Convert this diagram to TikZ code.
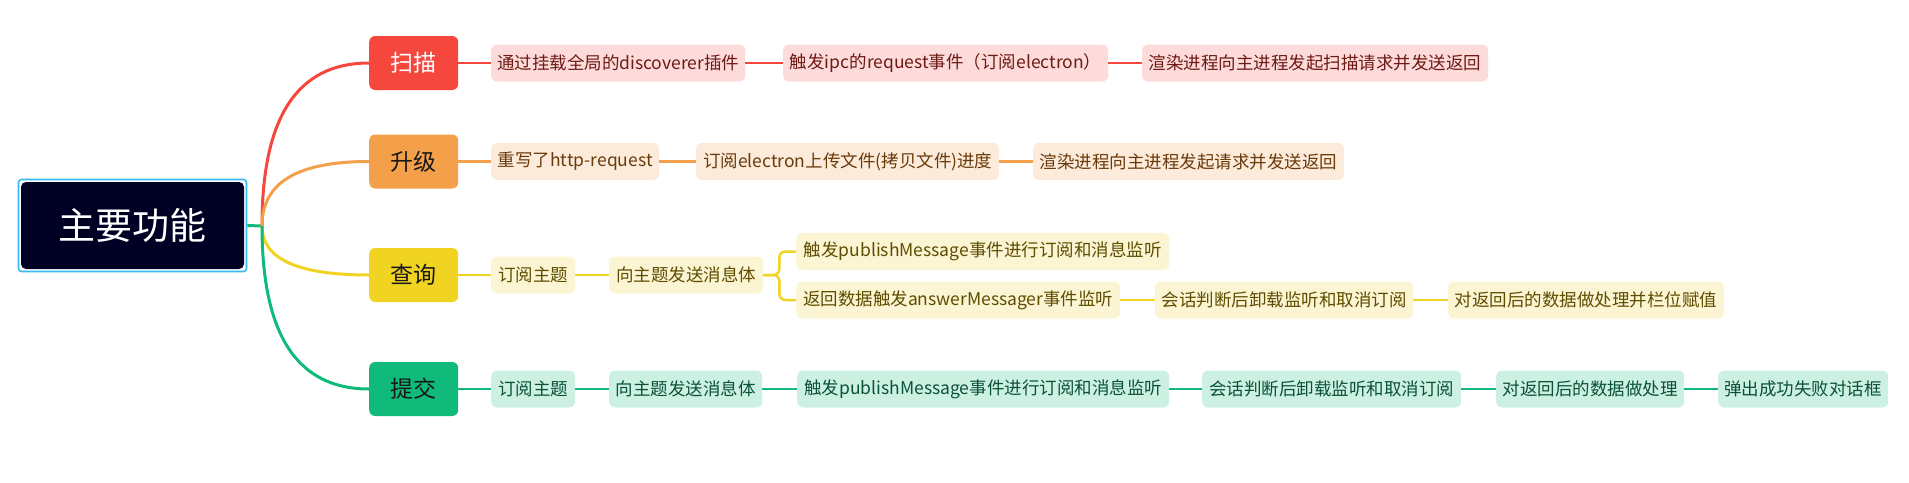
\documentclass[tikz,border=0pt]{standalone}
\usepackage{fontspec}
\newfontfamily\cjk{Noto Sans CJK SC}
\definecolor{cred}{HTML}{F5473E}
\definecolor{cora}{HTML}{F4A04B}
\definecolor{cyel}{HTML}{F1D321}
\definecolor{cgrn}{HTML}{0FBA7B}
\definecolor{fred}{HTML}{FDDBDB}
\definecolor{fora}{HTML}{FCEBDA}
\definecolor{fyel}{HTML}{FCF5D3}
\definecolor{fgrn}{HTML}{CCF1E3}
\definecolor{tred}{HTML}{6E1A14}
\definecolor{tora}{HTML}{6A3A0A}
\definecolor{tyel}{HTML}{5E4D00}
\definecolor{tgrn}{HTML}{0B5138}
\definecolor{rootbg}{HTML}{000025}
\definecolor{rootblue}{HTML}{3BB8F0}
\tikzset{
  lvtwo/.style={anchor=west, rounded corners=6pt, minimum height=37pt, inner xsep=0pt, inner ysep=0pt,
    font=\cjk\fontsize{17.5}{20}\selectfont},
  rb/.style={lvtwo, fill=fred, text=tred},
  ob/.style={lvtwo, fill=fora, text=tora},
  yb/.style={lvtwo, fill=fyel, text=tyel},
  gb/.style={lvtwo, fill=fgrn, text=tgrn},
  lvone/.style={anchor=west, rounded corners=6pt, minimum width=89pt, minimum height=54pt, inner sep=0pt,
    font=\cjk\fontsize{23}{26}\selectfont},
  link/.style={line width=2.5pt},
  curve/.style={line width=3pt},
}
\begin{document}
\begin{tikzpicture}[x=1pt,y=-1pt]
\useasboundingbox (0,0) rectangle (1909,482);
% root
\node[draw=rootblue, line width=1.6pt, rounded corners=3pt, minimum width=228pt, minimum height=92pt] (rootframe) at (132.5,225.5) {};
\node[fill=rootbg, rounded corners=5pt, minimum width=223pt, minimum height=87pt, text=white,
  font=\cjk\fontsize{37}{40}\selectfont] (root) at (132.5,225.5) {主要功能};
\coordinate (hub) at (262,226);
% level one
\node[lvone, fill=cred, text=white] (scan) at (369,63) {扫描};
\node[lvone, fill=cora, text=black!90] (upg) at (369,161.5) {升级};
\node[lvone, fill=cyel, text=black!90] (qry) at (369,275) {查询};
\node[lvone, fill=cgrn, text=black!90] (sub) at (369,389) {提交};
% curves
\draw[cgrn, line width=3pt] (rootframe.east) -- (hub);
\draw[curve, cred] (hub) .. controls (262,117.3) and (297,63) .. (scan.west);
\draw[curve, cora] (hub) .. controls (262,182.7) and (297,161.5) .. (upg.west);
\draw[curve, cyel] (hub) .. controls (262,258.7) and (297,275) .. (qry.west);
\draw[curve, cgrn] (hub) .. controls (262,334.7) and (297,389) .. (sub.west);
% row 1
\node[rb, minimum width=254pt] (a1) at (491,63) {通过挂载全局的discoverer插件};
\node[rb, minimum width=325pt] (a2) at (783,63) {触发ipc的request事件（订阅electron）};
\node[rb, minimum width=346pt] (a3) at (1142,63) {渲染进程向主进程发起扫描请求并发送返回};
\draw[link, cred] (scan.east) -- (a1.west);
\draw[link, cred] (a1.east) -- (a2.west);
\draw[link, cred] (a2.east) -- (a3.west);
% row 2
\node[ob, minimum width=168pt] (b1) at (491,161.5) {重写了http-request};
\node[ob, minimum width=303pt] (b2) at (696,161.5) {订阅electron上传文件(拷贝文件)进度};
\node[ob, minimum width=311pt] (b3) at (1033,161.5) {渲染进程向主进程发起请求并发送返回};
\draw[link, cora] (upg.east) -- (b1.west);
\draw[link, cora] (b1.east) -- (b2.west);
\draw[link, cora] (b2.east) -- (b3.west);
% row 3
\node[yb, minimum width=84pt] (c1) at (491,275) {订阅主题};
\node[yb, minimum width=154pt] (c2) at (609,275) {向主题发送消息体};
\node[yb, minimum width=373pt] (c3) at (796,251.5) {触发publishMessage事件进行订阅和消息监听};
\node[yb, minimum width=324pt] (c4) at (796,300) {返回数据触发answerMessager事件监听};
\node[yb, minimum width=258pt] (c5) at (1155,300) {会话判断后卸载监听和取消订阅};
\node[yb, minimum width=276pt] (c6) at (1448,300) {对返回后的数据做处理并栏位赋值};
\draw[link, cyel] (qry.east) -- (c1.west);
\draw[link, cyel] (c1.east) -- (c2.west);
\draw[link, cyel, rounded corners=6pt] (c2.east) -- ++(16,0) |- (c3.west);
\draw[link, cyel, rounded corners=6pt] (c2.east) -- ++(16,0) |- (c4.west);
\draw[link, cyel] (c4.east) -- (c5.west);
\draw[link, cyel] (c5.east) -- (c6.west);
% row 4
\node[gb, minimum width=84pt] (d1) at (491,389) {订阅主题};
\node[gb, minimum width=153pt] (d2) at (609,389) {向主题发送消息体};
\node[gb, minimum width=372pt] (d3) at (797,389) {触发publishMessage事件进行订阅和消息监听};
\node[gb, minimum width=259pt] (d4) at (1202,389) {会话判断后卸载监听和取消订阅};
\node[gb, minimum width=188pt] (d5) at (1496,389) {对返回后的数据做处理};
\node[gb, minimum width=170pt] (d6) at (1718,389) {弹出成功失败对话框};
\draw[link, cgrn] (sub.east) -- (d1.west);
\draw[link, cgrn] (d1.east) -- (d2.west);
\draw[link, cgrn] (d2.east) -- (d3.west);
\draw[link, cgrn] (d3.east) -- (d4.west);
\draw[link, cgrn] (d4.east) -- (d5.west);
\draw[link, cgrn] (d5.east) -- (d6.west);
\end{tikzpicture}
\end{document}
